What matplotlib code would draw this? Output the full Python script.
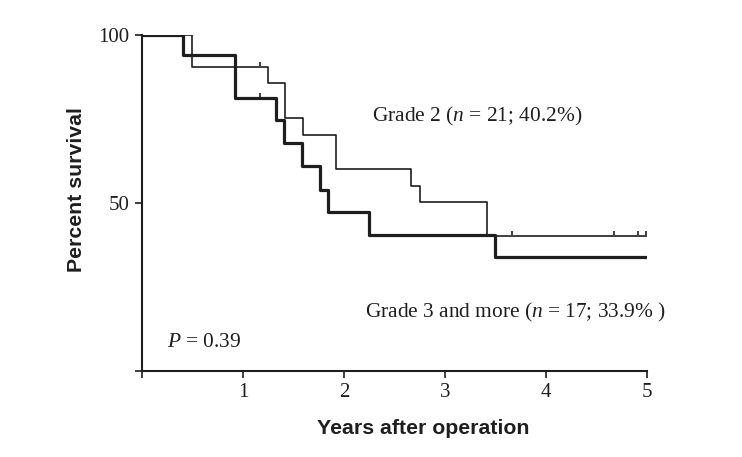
import numpy as np
import matplotlib
matplotlib.use('Agg')
import matplotlib.pyplot as plt

# Kaplan-Meier curves (years, percent survival)
g2_times = [0, 0.49, 1.25, 1.42, 1.59, 1.92, 2.66, 2.75, 3.42, 5.0]
g2_surv = [100, 90.5, 85.7, 75.2, 70.2, 60.1, 55.1, 50.2, 40.2, 40.2]
g2_censor = [0.17, 1.17, 3.66, 4.67, 4.91, 4.99]

g3_times = [0, 0.41, 0.92, 1.33, 1.41, 1.58, 1.76, 1.84, 2.25, 3.49, 5.0]
g3_surv = [100, 94.1, 81.2, 74.5, 67.7, 61.1, 53.9, 47.2, 40.4, 33.9, 33.9]
g3_censor = [1.17]

x_ticks = [1, 2, 3, 4, 5]
y_ticks = [0, 50, 100]
y_ticklabels = ['', '50', '100']

plt.rcParams['mathtext.fontset'] = 'custom'
plt.rcParams['mathtext.rm'] = 'Liberation Serif'
plt.rcParams['mathtext.it'] = 'Liberation Serif:italic'


def step_value(times, surv, t):
    # survival value of a right-continuous step curve at time t
    idx = np.searchsorted(times, t, side='right') - 1
    return surv[idx]


fig = plt.figure(figsize=(7.42, 4.57), dpi=100)
ax = fig.add_axes([0.1914, 0.1882, 0.6806, 0.7359])

col = '#1e1e1e'
ax.step(g2_times, g2_surv, where='post', color=col, linewidth=1.2)
ax.step(g3_times, g3_surv, where='post', color=col, linewidth=2.3)

# censoring marks
ax.plot(g2_censor, [step_value(g2_times, g2_surv, t) + 0.8 for t in g2_censor],
        linestyle='none', marker='|', markersize=3.5, markeredgewidth=1.2, color=col)
ax.plot(g3_censor, [step_value(g3_times, g3_surv, t) + 0.8 for t in g3_censor],
        linestyle='none', marker='|', markersize=3.5, markeredgewidth=1.2, color=col)

ax.set_xlim(0, 5)
ax.set_ylim(0, 100)
ax.spines['top'].set_visible(False)
ax.spines['right'].set_visible(False)
ax.spines['left'].set_linewidth(1.5)
ax.spines['bottom'].set_linewidth(1.5)
ax.spines['left'].set_color(col)
ax.spines['bottom'].set_color(col)

ax.set_xticks([0] + x_ticks)
ax.set_xticklabels([''] + [str(v) for v in x_ticks])
ax.set_yticks(y_ticks)
ax.set_yticklabels(y_ticklabels)
ax.tick_params(direction='out', length=5, width=1.2, color=col, labelsize=15,
               labelcolor=col, pad=4)
for lab in ax.get_xticklabels() + ax.get_yticklabels():
    lab.set_fontfamily('Liberation Serif')

ax.set_xlabel('Years after operation', fontsize=15.3, fontweight='bold',
              fontfamily='Liberation Sans', color=col, va='center', ha='center')
ax.xaxis.set_label_coords(0.557, -0.170)
ax.set_ylabel('Percent survival', fontsize=15.3, fontweight='bold',
              fontfamily='Liberation Sans', color=col, va='center', ha='center')
ax.yaxis.set_label_coords(-0.129, 0.539)

ax.text(2.28, 75.8, 'Grade 2 ($n$ = 21; 40.2%)', fontsize=15.4,
        fontfamily='Liberation Serif', color=col, va='center', ha='left')
ax.text(2.21, 17.3, 'Grade 3 and more ($n$ = 17; 33.9% )', fontsize=15.4,
        fontfamily='Liberation Serif', color=col, va='center', ha='left')
ax.text(0.25, 8.4, '$P$ = 0.39', fontsize=15.4,
        fontfamily='Liberation Serif', color=col, va='center', ha='left')

plt.savefig('out.png', dpi=100)
plt.close()
